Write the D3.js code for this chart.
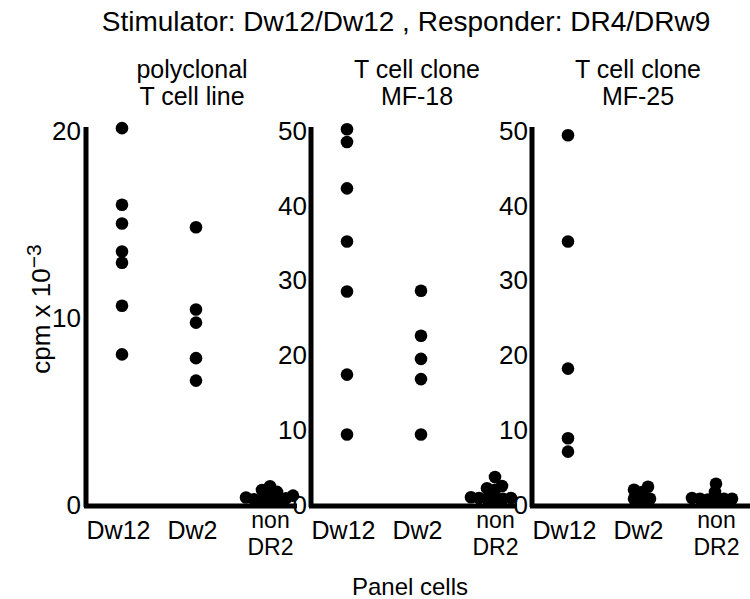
<!DOCTYPE html>
<html>
<head>
<meta charset="utf-8">
<script src="https://cdn.jsdelivr.net/npm/d3@7"></script>
<style>
  body { margin: 0; background: #fff; }
  text { font-family: "Liberation Sans", Arial, sans-serif; fill: #000; }
</style>
</head>
<body>
<div id="viz-wrapper"></div>
<script>
let width = 750,
    height = 599;

// categories on the x axis of every panel
let categories = ['Dw12', 'Dw2', 'non DR2'];

// panel titles (two lines each)
let panelTitles = [
  ['polyclonal', 'T cell line'],
  ['T cell clone', 'MF-18'],
  ['T cell clone', 'MF-25']
];

// y axis tick values
let ticksPoly = [0, 10, 20];
let ticksClone = [0, 10, 20, 30, 40, 50];

// cpm x 10^-3
let polyDw12 = [20.1, 16.0, 15.0, 13.5, 12.9, 10.6, 8.0];
let polyDw2 = [14.8, 10.4, 9.7, 7.8, 6.6];
let polyNon = [0.15, 0.2, 0.2, 0.25, 0.3, 0.35, 0.45, 0.55, 0.65, 0.75, 0.95];

let mf18Dw12 = [50.1, 48.4, 42.2, 35.1, 28.4, 17.3, 9.3];
let mf18Dw2 = [28.5, 22.5, 19.4, 16.7, 9.3];
let mf18Non = [0.6, 0.7, 0.7, 0.8, 0.8, 0.9, 1.9, 2.1, 2.4, 3.6];

let mf25Dw12 = [49.3, 35.1, 18.1, 8.8, 7.0];
let mf25Dw2 = [0.5, 0.7, 0.7, 1.6, 1.9, 2.3];
let mf25Non = [0.6, 0.6, 0.7, 0.7, 0.7, 0.8, 1.6, 2.7];

let panels = [
  {title: panelTitles[0], max: 20, ticks: ticksPoly, axisX: 86, end: 297,
   series: [polyDw12, polyDw2, polyNon]},
  {title: panelTitles[1], max: 50, ticks: ticksClone, axisX: 311, end: 517,
   series: [mf18Dw12, mf18Dw2, mf18Non]},
  {title: panelTitles[2], max: 50, ticks: ticksClone, axisX: 532, end: 752,
   series: [mf25Dw12, mf25Dw2, mf25Non]}
];

let yTop = 131,
    yBottom = 505;
let radius = 6.3;
let step = 74;
let fontSize = 25;

let svg = d3.select('#viz-wrapper')
  .append('svg')
  .attr('width', width)
  .attr('height', height);

// main title
svg.append('text')
  .attr('x', 406)
  .attr('y', 31)
  .attr('text-anchor', 'middle')
  .style('font-size', '28px')
  .text('Stimulator: Dw12/Dw12 , Responder: DR4/DRw9');

// y label with superscript
let yLabel = svg.append('text')
  .attr('transform', 'translate(50,309) rotate(-90)')
  .attr('text-anchor', 'middle')
  .style('font-size', '26px');
yLabel.append('tspan').text('cpm x 10');
yLabel.append('tspan').attr('dy', -9).style('font-size', '21px').text('\u22123');

// x label
svg.append('text')
  .attr('x', 410)
  .attr('y', 595)
  .attr('text-anchor', 'middle')
  .style('font-size', '24px')
  .text('Panel cells');

// simple dodge so that clustered dots spread sideways
function dodge(values, yScale, minDist) {
  let placed = [];
  values.slice().sort(d3.ascending).forEach(function(v) {
    let y = yScale(v);
    for (let k = 0; k < 200; k++) {
      let off = (k % 2 === 0 ? 1 : -1) * Math.ceil(k / 2);
      let ok = placed.every(function(p) {
        return Math.hypot(p.dx - off, p.y - y) >= minDist;
      });
      if (ok) { placed.push({dx: off, y: y, v: v}); break; }
    }
  });
  return placed;
}

panels.forEach(function(p, pi) {
  let yScale = d3.scaleLinear().domain([0, p.max]).range([yBottom, yTop]);
  let xScale = d3.scalePoint()
    .domain(categories)
    .range([p.axisX + 36, p.axisX + 36 + 2 * step]);

  let g = svg.append('g').attr('class', 'panel');

  // panel title
  p.title.forEach(function(line, i) {
    g.append('text')
      .attr('x', xScale('Dw2') - 4)
      .attr('y', 78 + i * 27)
      .attr('text-anchor', 'middle')
      .style('font-size', '25px')
      .text(line);
  });

  // baseline
  g.append('line')
    .attr('x1', p.axisX - 2)
    .attr('x2', p.end)
    .attr('y1', yBottom + 1)
    .attr('y2', yBottom + 1)
    .style('stroke', '#000')
    .style('stroke-width', 5);

  // y axis
  let yAxis = d3.axisLeft(yScale)
    .tickValues(p.ticks)
    .tickSize(0)
    .tickSizeOuter(0)
    .tickPadding(pi === 0 ? 5 : 4);
  let ya = g.append('g')
    .attr('transform', 'translate(' + p.axisX + ',0)')
    .call(yAxis);
  ya.select('.domain')
    .attr('d', 'M0,' + (yBottom + 2) + 'V' + (yTop - 4))
    .style('stroke', '#000')
    .style('stroke-width', 5);
  ya.selectAll('text')
    .style('font-size', '26px')
    .attr('font-family', null);

  // x axis labels
  let xAxis = d3.axisBottom(xScale).tickSize(0).tickPadding(0);
  let xa = g.append('g')
    .attr('transform', 'translate(0,' + yBottom + ')')
    .call(xAxis);
  xa.select('.domain').remove();
  xa.selectAll('.tick text')
    .attr('font-family', null)
    .style('font-size', fontSize + 'px')
    .each(function(d) {
      let t = d3.select(this).text('').attr('dy', null).attr('y', 0);
      let parts = d.split(' ');
      if (parts.length === 1) {
        t.append('tspan').attr('x', -4).attr('y', 34).text(d);
      } else {
        t.style('font-size', '23px');
        t.append('tspan').attr('x', 0).attr('y', 23).text(parts[0]);
        t.append('tspan').attr('x', 0).attr('y', 50).text(parts[1]);
      }
    });

  // dots
  p.series.forEach(function(vals, ci) {
    let cx = xScale(categories[ci]);
    let pts = dodge(vals, yScale, 7.5);
    g.selectAll('circle.c' + ci)
      .data(pts)
      .enter()
      .append('circle')
      .attr('class', 'c' + ci)
      .attr('cx', function(d) { return cx + d.dx; })
      .attr('cy', function(d) { return d.y - 1; })
      .attr('r', radius)
      .style('fill', '#000');
  });
});
</script>
</body>
</html>
